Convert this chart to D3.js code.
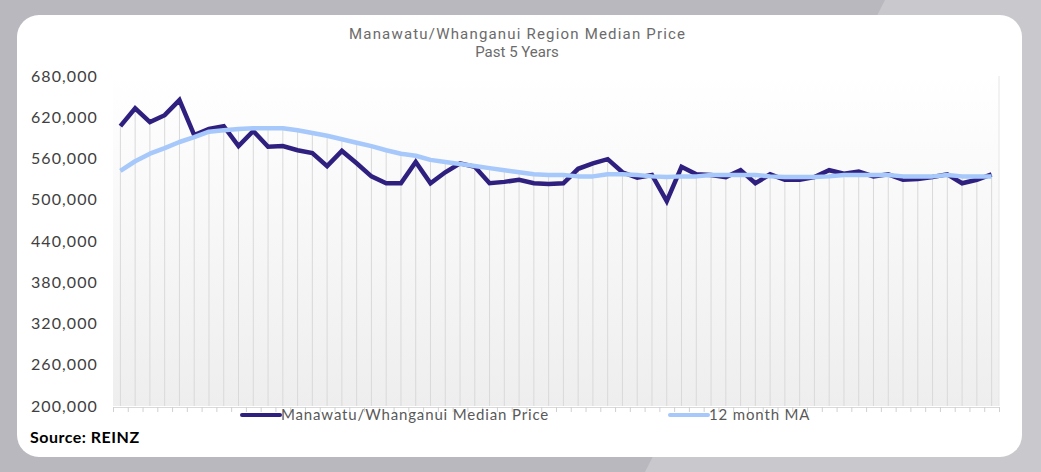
<!DOCTYPE html>
<html>
<head>
<meta charset="utf-8">
<title>Manawatu/Whanganui Region Median Price</title>
<script src="https://d3js.org/d3.v7.min.js"></script>
<style>
  body { margin: 0; background: #b9b8be; }
  svg { display: block; }
</style>
</head>
<body>
<script>

// monthly median price, last 5 years
var medianPrice = [607000, 633000, 613000, 623000, 645000, 594000, 603000, 607000, 578000, 600000,
                   577000, 578000, 572000, 568000, 549000, 571000, 553000, 534000, 524000, 524000,
                   555000, 524000, 540000, 553000, 548000, 524000, 526000, 529000, 524000, 523000,
                   524000, 545000, 553000, 559000, 540000, 532000, 536000, 498000, 548000, 537000,
                   536000, 533000, 543000, 524000, 537000, 529000, 529000, 533000, 543000, 538000,
                   541000, 534000, 537000, 529000, 530000, 533000, 537000, 524000, 529000, 537000];

// 12 month moving average
var movingAvg = [542000, 556000, 567000, 575000, 584000, 591000, 599000, 601000, 603000, 604000,
                 604000, 604000, 601000, 597000, 593000, 588000, 583000, 578000, 572000, 567000,
                 564000, 558000, 555000, 552000, 549000, 546000, 543000, 540000, 537000, 536000,
                 536000, 534000, 534000, 537000, 537000, 536000, 534000, 533000, 534000, 534000,
                 536000, 536000, 536000, 536000, 534000, 533000, 533000, 533000, 534000, 536000,
                 536000, 536000, 536000, 534000, 534000, 534000, 536000, 534000, 534000, 534000];

var yTicks = [200000, 260000, 320000, 380000, 440000, 500000, 560000, 620000, 680000];
var seriesNames = ["Manawatu/Whanganui Median Price", "12 month MA"];
var seriesColors = ["#2f1f7f", "#a6c8fa"];

var W = 1041, H = 472;
var plot = {left: 113, right: 999, top: 76, bottom: 406};

var svg = d3.select("body").append("svg")
    .attr("width", W)
    .attr("height", H);

var defs = svg.append("defs");
var grad = defs.append("linearGradient")
    .attr("id", "plotbg")
    .attr("x1", 0).attr("y1", 0).attr("x2", 0).attr("y2", 1);
grad.append("stop").attr("offset", "0%").attr("stop-color", "#ffffff");
grad.append("stop").attr("offset", "100%").attr("stop-color", "#eeeeee");

// backdrop
svg.append("polygon")
    .attr("points", "885,0 1041,0 1041,472 645,472")
    .attr("fill", "#c9c8cd");
svg.append("rect")
    .attr("x", 17).attr("y", 15)
    .attr("width", 1005).attr("height", 442)
    .attr("rx", 22)
    .attr("fill", "#ffffff");

// scales
var idx = d3.range(medianPrice.length);
var x = d3.scaleBand()
    .domain(idx)
    .range([plot.left, plot.right]);
var xEdge = d3.scaleLinear()
    .domain([0, medianPrice.length])
    .range([plot.left, plot.right]);
var y = d3.scaleLinear()
    .domain([200000, 680000])
    .range([plot.bottom, plot.top]);

function cx(i) { return x(i) + x.bandwidth() / 2; }

// plot area
svg.append("rect")
    .attr("x", plot.left).attr("y", plot.top)
    .attr("width", plot.right - plot.left)
    .attr("height", plot.bottom - plot.top)
    .attr("fill", "url(#plotbg)");
svg.append("line")
    .attr("x1", plot.right).attr("x2", plot.right)
    .attr("y1", plot.top).attr("y2", plot.bottom)
    .attr("stroke", "#e6e6e6");

// drop lines
svg.append("g").selectAll("line")
    .data(idx)
  .enter().append("line")
    .attr("x1", cx).attr("x2", cx)
    .attr("y1", function(i) { return y(Math.max(medianPrice[i], movingAvg[i])); })
    .attr("y2", plot.bottom)
    .attr("stroke", "#d9d9d9")
    .attr("stroke-width", 1);

// x axis (category boundary ticks)
var xAxis = svg.append("g")
    .attr("transform", "translate(0," + (plot.bottom + 1) + ")")
    .call(d3.axisBottom(xEdge)
        .tickValues(d3.range(medianPrice.length + 1))
        .tickFormat("")
        .tickSize(5)
        .tickSizeOuter(0));
xAxis.select(".domain").attr("stroke", "#d9d9d9");
xAxis.selectAll(".tick line").attr("stroke", "#d0d0d0");

// y axis
var yAxis = svg.append("g")
    .attr("transform", "translate(98,0)")
    .call(d3.axisLeft(y)
        .tickValues(yTicks)
        .tickFormat(d3.format(","))
        .tickSize(0)
        .tickPadding(0));
yAxis.select(".domain").remove();
yAxis.selectAll("text")
    .attr("fill", "#404040")
    .style("font-family", "Lato, sans-serif")
    .style("font-size", "16px")
    .style("letter-spacing", "1.1px");

// lines
var line = d3.line()
    .x(function(d, i) { return cx(i); })
    .y(function(d) { return y(d); });

svg.append("path")
    .datum(medianPrice)
    .attr("d", line)
    .attr("fill", "none")
    .attr("stroke", seriesColors[0])
    .attr("stroke-width", 4.5)
    .attr("stroke-linejoin", "miter");

svg.append("path")
    .datum(movingAvg)
    .attr("d", line)
    .attr("fill", "none")
    .attr("stroke", seriesColors[1])
    .attr("stroke-width", 4.5)
    .attr("stroke-linejoin", "round");

// title
svg.append("text")
    .attr("x", 517).attr("y", 39)
    .attr("text-anchor", "middle")
    .attr("fill", "#6b6b6b")
    .style("font-family", "Roboto, sans-serif")
    .style("font-size", "15px")
    .attr("textLength", 336)
    .text("Manawatu/Whanganui Region Median Price");
svg.append("text")
    .attr("x", 517).attr("y", 57)
    .attr("text-anchor", "middle")
    .attr("fill", "#6b6b6b")
    .style("font-family", "Roboto, sans-serif")
    .style("font-size", "15px")
    .text("Past 5 Years");

// legend
var legendX = [242, 670];
var legend = svg.append("g").selectAll("g")
    .data(seriesNames)
  .enter().append("g")
    .attr("transform", function(d, i) { return "translate(" + legendX[i] + ",415)"; });
legend.append("line")
    .attr("x1", 0).attr("x2", 38)
    .attr("stroke", function(d, i) { return seriesColors[i]; })
    .attr("stroke-width", 4)
    .attr("stroke-linecap", "round");
legend.append("text")
    .attr("x", 39).attr("y", 5)
    .attr("fill", "#595959")
    .style("font-family", "Lato, sans-serif")
    .style("font-size", "15px")
    .style("letter-spacing", "0.85px")
    .text(function(d) { return d; });

// source
svg.append("text")
    .attr("x", 30).attr("y", 443)
    .attr("fill", "#000000")
    .style("font-family", "Lato, sans-serif")
    .style("font-weight", "bold")
    .style("font-size", "16px")
    .style("letter-spacing", "0.5px")
    .text("Source: REINZ");

</script>
</body>
</html>
